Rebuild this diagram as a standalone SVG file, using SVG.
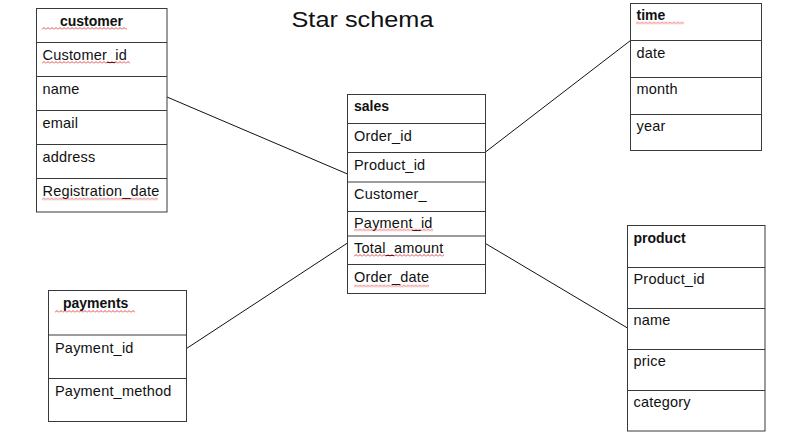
<svg xmlns="http://www.w3.org/2000/svg" width="797" height="445" viewBox="0 0 797 445">
  <style>
    .box { fill: #ffffff; stroke: #3a3a3a; stroke-width: 1; }
    .div { stroke: #3a3a3a; stroke-width: 1; }
    .t { font-family: "Liberation Sans", Arial, sans-serif; font-size: 14.5px; fill: #111; letter-spacing: 0.2px; }
    .h { font-weight: bold; font-size: 14px; letter-spacing: 0; }
    .conn { stroke: #111; stroke-width: 1; fill: none; }
    .title { font-family: "Liberation Sans", Arial, sans-serif; font-size: 22px; fill: #111; }
  </style>
  <defs>
    <pattern id="sq" width="4" height="3" patternUnits="userSpaceOnUse">
      <path d="M0 2.5 L2 0.5 L4 2.5" stroke="#d42020" stroke-width="0.8" fill="none"/>
    </pattern>
  </defs>
  <rect width="797" height="445" fill="#ffffff"/>

  <text class="title" x="291.5" y="27" textLength="142" lengthAdjust="spacingAndGlyphs">Star schema</text>

  <g id="connectors">
    <line class="conn" x1="167" y1="97" x2="347.5" y2="174"/>
    <line class="conn" x1="485.5" y1="152" x2="630.5" y2="40.5"/>
    <line class="conn" x1="186.5" y1="348.5" x2="347.5" y2="243"/>
    <line class="conn" x1="485.5" y1="243.5" x2="627.5" y2="328"/>
  </g>

  <g id="customer">
    <rect class="box" x="36.5" y="8.5" width="130.5" height="203.5"/>
    <line class="div" x1="36.5" y1="42.5" x2="167" y2="42.5"/>
    <line class="div" x1="36.5" y1="76.5" x2="167" y2="76.5"/>
    <line class="div" x1="36.5" y1="110.5" x2="167" y2="110.5"/>
    <line class="div" x1="36.5" y1="144.5" x2="167" y2="144.5"/>
    <line class="div" x1="36.5" y1="178.5" x2="167" y2="178.5"/>
    <text class="t h" x="60" y="26">customer</text>
    <text class="t" x="42.5" y="60">Customer_id</text>
    <text class="t" x="42.5" y="94">name</text>
    <text class="t" x="42.5" y="128">email</text>
    <text class="t" x="42.5" y="162">address</text>
    <text class="t" x="42.5" y="196">Registration_date</text>
    <rect transform="translate(42,27)" width="85" height="3" fill="url(#sq)"/>
    <rect transform="translate(42,61)" width="88" height="3" fill="url(#sq)"/>
    <rect transform="translate(42,197.5)" width="116" height="3" fill="url(#sq)"/>
  </g>

  <g id="sales">
    <rect class="box" x="347.5" y="94.5" width="138" height="199"/>
    <line class="div" x1="347.5" y1="123.5" x2="485.5" y2="123.5"/>
    <line class="div" x1="347.5" y1="152.5" x2="485.5" y2="152.5"/>
    <line class="div" x1="347.5" y1="182" x2="485.5" y2="182"/>
    <line class="div" x1="347.5" y1="211.5" x2="485.5" y2="211.5"/>
    <line class="div" x1="347.5" y1="236" x2="485.5" y2="236"/>
    <line class="div" x1="347.5" y1="264.5" x2="485.5" y2="264.5"/>
    <text class="t h" x="354" y="111">sales</text>
    <text class="t" x="354" y="141">Order_id</text>
    <text class="t" x="354" y="170">Product_id</text>
    <text class="t" x="354" y="199">Customer_</text>
    <text class="t" x="354" y="227.5">Payment_id</text>
    <text class="t" x="354" y="252.5">Total_amount</text>
    <text class="t" x="354" y="282">Order_date</text>
    <rect transform="translate(354,228.5)" width="79" height="3" fill="url(#sq)"/>
    <rect transform="translate(354,254)" width="90" height="3" fill="url(#sq)"/>
    <rect transform="translate(354,284.5)" width="75" height="3" fill="url(#sq)"/>
  </g>

  <g id="time">
    <rect class="box" x="630.5" y="3.5" width="131" height="147"/>
    <line class="div" x1="630.5" y1="40.5" x2="761.5" y2="40.5"/>
    <line class="div" x1="630.5" y1="77.5" x2="761.5" y2="77.5"/>
    <line class="div" x1="630.5" y1="114.5" x2="761.5" y2="114.5"/>
    <text class="t h" x="636.5" y="20">time</text>
    <text class="t" x="636.5" y="57.5">date</text>
    <text class="t" x="636.5" y="94">month</text>
    <text class="t" x="636.5" y="131">year</text>
    <rect transform="translate(636,21.5)" width="48" height="3" fill="url(#sq)"/>
  </g>

  <g id="product">
    <rect class="box" x="627.5" y="225.5" width="137.5" height="205.5"/>
    <line class="div" x1="627.5" y1="267.5" x2="765" y2="267.5"/>
    <line class="div" x1="627.5" y1="308.5" x2="765" y2="308.5"/>
    <line class="div" x1="627.5" y1="349.5" x2="765" y2="349.5"/>
    <line class="div" x1="627.5" y1="390.5" x2="765" y2="390.5"/>
    <text class="t h" x="633.5" y="243">product</text>
    <text class="t" x="633.5" y="284">Product_id</text>
    <text class="t" x="633.5" y="325">name</text>
    <text class="t" x="633.5" y="366">price</text>
    <text class="t" x="633.5" y="407">category</text>
  </g>

  <g id="payments">
    <rect class="box" x="48.5" y="290.5" width="138" height="131"/>
    <line class="div" x1="48.5" y1="335" x2="186.5" y2="335"/>
    <line class="div" x1="48.5" y1="378.5" x2="186.5" y2="378.5"/>
    <text class="t h" x="63" y="308">payments</text>
    <text class="t" x="55" y="353">Payment_id</text>
    <text class="t" x="55" y="396">Payment_method</text>
    <rect transform="translate(55,310)" width="80" height="3" fill="url(#sq)"/>
  </g>
</svg>
